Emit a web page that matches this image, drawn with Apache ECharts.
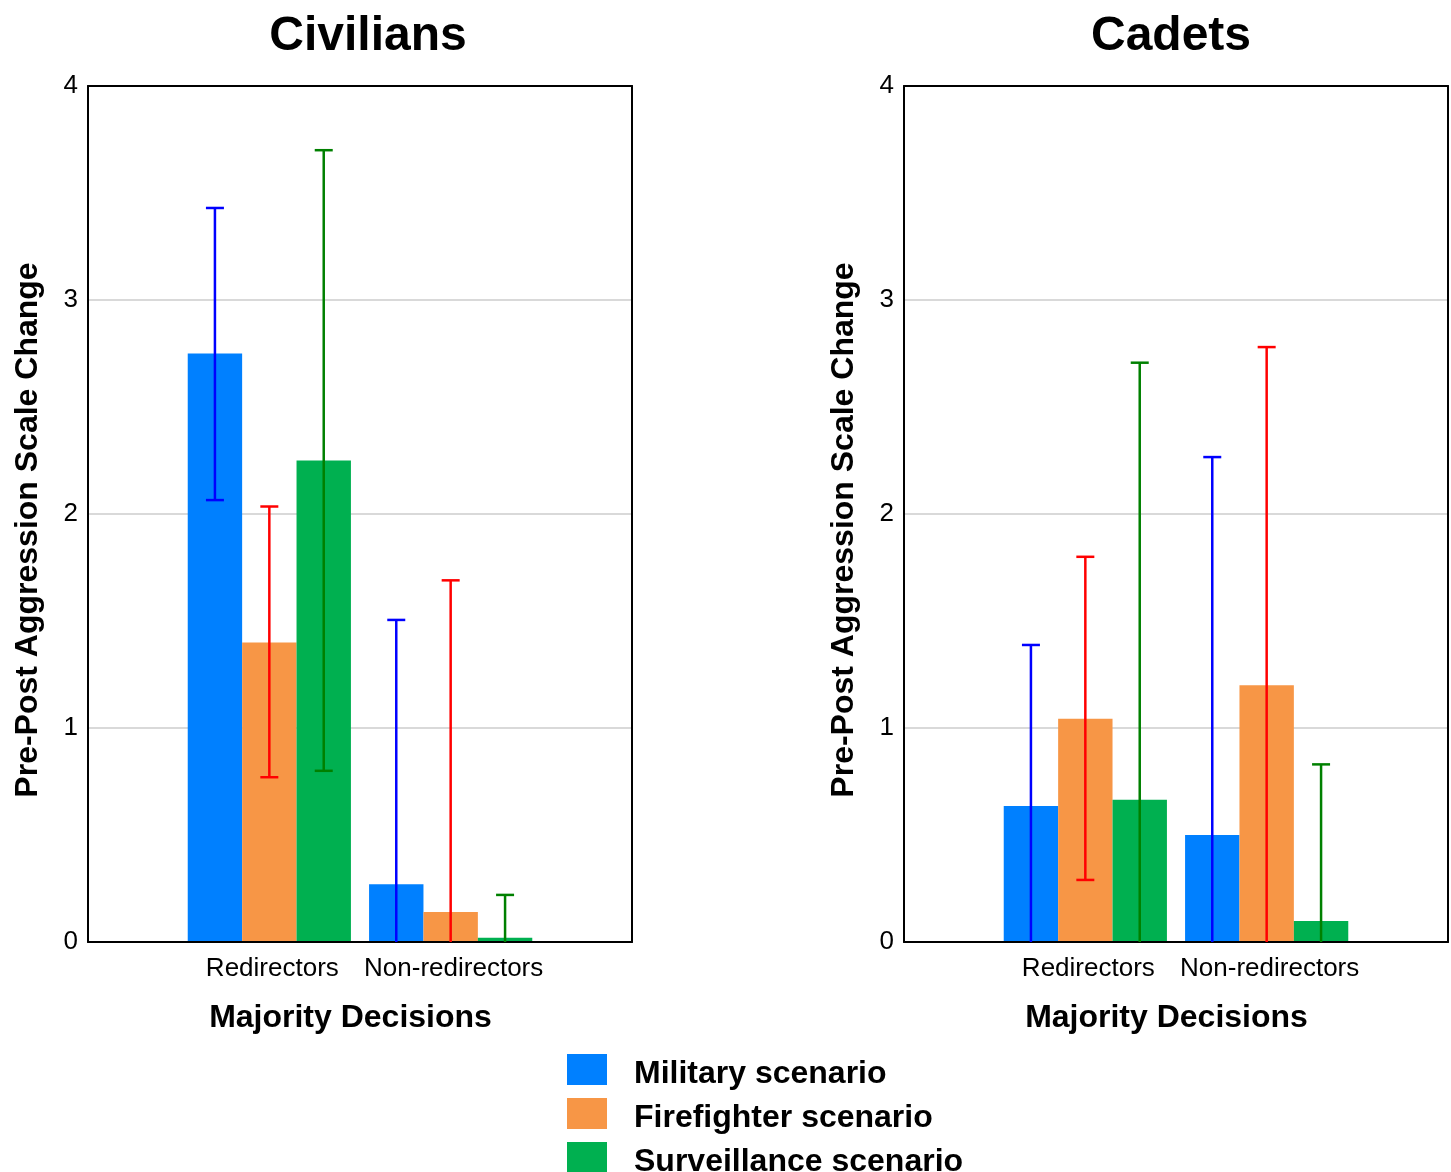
<!DOCTYPE html>
<html><head><meta charset="utf-8">
<script src="https://cdn.jsdelivr.net/npm/echarts@6/dist/echarts.min.js"></script>
<style>html,body{margin:0;padding:0;background:#fff}#c{width:1451px;height:1172px}</style>
</head><body><div id="c"></div>
<script>
const categories = ['', 'Redirectors', 'Non-redirectors', ''];
const scenarios = ['Military scenario', 'Firefighter scenario', 'Surveillance scenario'];
const panelTitles = ['Civilians', 'Cadets'];
const yTicks = [0, 1, 2, 3, 4];

// Civilians: [Redirectors, Non-redirectors]
const civMilitary = [2.75, 0.27];
const civFirefighter = [1.40, 0.14];
const civSurveillance = [2.25, 0.02];
const civMilitaryHi = [3.43, 1.505];
const civMilitaryLo = [2.065, -0.96];
const civFirefighterHi = [2.035, 1.69];
const civFirefighterLo = [0.77, -1.41];
const civSurveillanceHi = [3.70, 0.22];
const civSurveillanceLo = [0.80, -0.18];

// Cadets: [Redirectors, Non-redirectors]
const cadMilitary = [0.635, 0.50];
const cadFirefighter = [1.043, 1.20];
const cadSurveillance = [0.665, 0.098];
const cadMilitaryHi = [1.388, 2.266];
const cadMilitaryLo = [-0.12, -1.27];
const cadFirefighterHi = [1.80, 2.78];
const cadFirefighterLo = [0.29, -0.38];
const cadSurveillanceHi = [2.707, 0.83];
const cadSurveillanceLo = [-1.38, -0.63];

const barColors = ['#0080FF', '#F79646', '#00B050'];
const errColors = ['#0000FF', '#FF0000', '#008000'];
const FONT = "'Liberation Sans', Arial, Helvetica, sans-serif";

const panels = [
  {means: [civMilitary, civFirefighter, civSurveillance], hi: [civMilitaryHi, civFirefighterHi, civSurveillanceHi], lo: [civMilitaryLo, civFirefighterLo, civSurveillanceLo]},
  {means: [cadMilitary, cadFirefighter, cadSurveillance], hi: [cadMilitaryHi, cadFirefighterHi, cadSurveillanceHi], lo: [cadMilitaryLo, cadFirefighterLo, cadSurveillanceLo]}
];

const BAR_FRAC = 0.3;
const series = [];
panels.forEach((p, pi) => {
  p.means.forEach((arr, si) => {
    series.push({
      name: scenarios[si], type: 'bar', xAxisIndex: pi * 2, yAxisIndex: pi * 2,
      barWidth: (BAR_FRAC * 100) + '%', barGap: '0%',
      itemStyle: {color: barColors[si]},
      data: [null, arr[0], arr[1], null],
      z: 2
    });
  });
  p.means.forEach((arr, si) => {
    const data = [1, 2].map((c, k) => [c, p.lo[si][k], p.hi[si][k]]);
    series.push({
      type: 'custom', xAxisIndex: pi * 2, yAxisIndex: pi * 2, z: 5,
      silent: true,
      data: data,
      renderItem: function (params, api) {
        const band = api.size([1, 0])[0];
        const off = band * BAR_FRAC * (si - 1);
        const x = api.coord([api.value(0), 0])[0] + off;
        const y0 = api.coord([api.value(0), 0])[1];
        const lo = api.value(1), hi = api.value(2);
        const yHi = api.coord([api.value(0), hi])[1];
        const yLo = lo < 0 ? y0 : api.coord([api.value(0), lo])[1];
        const cw = 9;
        const st = {stroke: errColors[si], lineWidth: 2.5};
        const children = [
          {type: 'line', shape: {x1: x, y1: yHi, x2: x, y2: yLo}, style: st},
          {type: 'line', shape: {x1: x - cw, y1: yHi, x2: x + cw, y2: yHi}, style: st}
        ];
        if (lo >= 0) children.push({type: 'line', shape: {x1: x - cw, y1: yLo, x2: x + cw, y2: yLo}, style: st});
        return {type: 'group', children: children};
      }
    });
  });
});

const grids = [
  {left: 88, right: 819, top: 86, bottom: 230},
  {left: 904, right: 3, top: 86, bottom: 230}
];

const xAxes = [];
const yAxes = [];
[0, 1].forEach(i => {
  xAxes.push({
    type: 'category', gridIndex: i, data: categories, boundaryGap: false, z: 3,
    axisLine: {onZero: false, lineStyle: {color: '#000', width: 2}},
    axisTick: {show: false},
    axisLabel: {interval: 0, fontFamily: FONT, fontSize: 26, color: '#000', margin: 14, padding: [0, 0, 0, 6]},
    splitLine: {show: false},
    name: 'Majority Decisions', nameLocation: 'middle', nameGap: 60,
    nameTextStyle: {fontFamily: FONT, fontSize: 32, fontWeight: 'bold', color: '#000', padding: [0, 19, 0, 0]}
  });
  xAxes.push({
    type: 'category', gridIndex: i, data: categories, boundaryGap: false, position: 'top', z: 3,
    axisLine: {show: true, onZero: false, lineStyle: {color: '#000', width: 2}},
    axisTick: {show: false}, axisLabel: {show: false}, splitLine: {show: false}
  });
  yAxes.push({
    type: 'value', gridIndex: i, min: yTicks[0], max: yTicks[yTicks.length - 1], interval: 1, z: 1,
    axisLine: {show: true, onZero: false, lineStyle: {color: '#000', width: 2}},
    axisTick: {show: false},
    axisLabel: {fontFamily: FONT, fontSize: 26, color: '#000', margin: 10},
    splitLine: {show: true, lineStyle: {color: '#D9D9D9', width: 2}},
    name: 'Pre-Post Aggression Scale Change', nameLocation: 'middle', nameGap: 44,
    nameTextStyle: {fontFamily: FONT, fontSize: 32, fontWeight: 'bold', color: '#000', padding: [0, 32, 0, 0]}
  });
  yAxes.push({
    type: 'value', gridIndex: i, min: yTicks[0], max: yTicks[yTicks.length - 1], interval: 1, position: 'right', z: 3,
    axisLine: {show: true, onZero: false, lineStyle: {color: '#000', width: 2}},
    axisTick: {show: false}, axisLabel: {show: false}, splitLine: {show: false}
  });
});

const option = {
  backgroundColor: '#fff',
  animation: false,
  title: [
    {text: panelTitles[0], left: 363, top: 8, textAlign: 'center', textStyle: {fontFamily: FONT, fontSize: 48, fontWeight: 'bold', color: '#000'}},
    {text: panelTitles[1], left: 1166, top: 8, textAlign: 'center', textStyle: {fontFamily: FONT, fontSize: 48, fontWeight: 'bold', color: '#000'}}
  ],
  legend: {
    data: scenarios, orient: 'vertical', left: 567, top: 1054, height: 200, padding: 0,
    itemWidth: 40, itemHeight: 31, itemGap: 8, icon: 'rect',
    formatter: '{a|{name}}',
    textStyle: {
      fontFamily: FONT, fontSize: 32, fontWeight: 'bold', color: '#000',
      rich: {a: {fontFamily: FONT, fontSize: 32, fontWeight: 'bold', color: '#000', padding: [9, 0, 0, 22]}}
    }
  },
  grid: grids,
  xAxis: xAxes,
  yAxis: yAxes,
  series: series
};

const chart = echarts.init(document.getElementById('c'), null, {renderer: 'canvas'});
chart.setOption(option);
</script></body></html>
